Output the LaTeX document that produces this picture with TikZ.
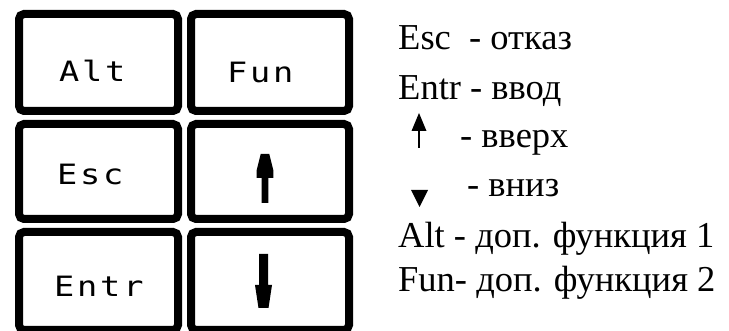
\documentclass[tikz,border=0pt]{standalone}
\usepackage{fontspec}
\setmainfont{Liberation Serif}
\newfontfamily\keyfam[FakeStretch=1.2, LetterSpace=10]{DejaVu Sans Mono}
\usepackage{tikz}
\usetikzlibrary{positioning}
\tikzset{
  keybox/.style={draw, line width=8pt, rounded corners=5pt, inner sep=0pt, minimum width=159pt},
  keytext/.style={font=\keyfam\fontsize{28}{32}\selectfont, inner sep=0pt, anchor=base west},
  legtext/.style={font=\fontsize{36.5}{40}\selectfont, inner sep=0pt, anchor=base west},
  keyglyph/.style={fill=black},
}
\begin{document}
\begin{tikzpicture}[x=1pt, y=-1pt]
		\useasboundingbox (0,0) rectangle (729,331);
		\clip (0,0) rectangle (729,331);

		% Keypad
		\node[keybox, minimum height=97pt] (alt) at (98.5,62.5) {};
		\node[keybox, minimum height=97pt, minimum width=158pt] (fun) at (270,62.5) {};
		\node[keybox, minimum height=95pt] (esc) at (98.5,171.5) {};
		\node[keybox, minimum height=95pt, minimum width=158pt] (up) at (270,171.5) {};
		\node[keybox, minimum height=98pt] (entr) at (98.5,281) {};
		\node[keybox, minimum height=98pt, minimum width=158pt] (down) at (270,281) {};

		\node[keytext] (altlbl) at (59,82) {Alt};
		\node[keytext] (funlbl) at (227,83) {Fun};
		\node[keytext] (esclbl) at (57,185) {Esc};
		\node[keytext] (entrlbl) at (54,297) {Entr};

		% Arrows on the keys
		\fill[keyglyph] (260.7,154) -- (269.3,154) -- (273.3,170) -- (273.3,178) -- (268.3,178)
			-- (268.3,203) -- (261.7,203) -- (261.7,178) -- (256.7,178) -- (256.7,170) -- cycle;
		\fill[keyglyph] (259,254) -- (268,254) -- (268,285) -- (272,285) -- (268.5,308)
			-- (258.5,308) -- (255,285) -- (259,285) -- cycle;

		% Legend
		\node[legtext] (lesc) at (398,50) {Esc\ \ - отказ};
		\node[legtext] (lentr) at (398,100) {Entr - ввод};
		\draw[line width=1.5pt] (419,148) -- (419,128);
		\fill[keyglyph] (419,113) -- (426.5,131) -- (411.5,131) -- cycle;
		\node[legtext] (lup) at (460,148) {- вверх};
		\fill[keyglyph] (411,190) -- (428,190) -- (419.5,207) -- cycle;
		\node[legtext] (ldown) at (467,197) {- вниз};
		\node[legtext] (lalt) at (398,248) {Alt - доп. функция 1};
		\node[legtext] (lfun) at (398,292) {Fun- доп. функция 2};
\end{tikzpicture}
\end{document}
